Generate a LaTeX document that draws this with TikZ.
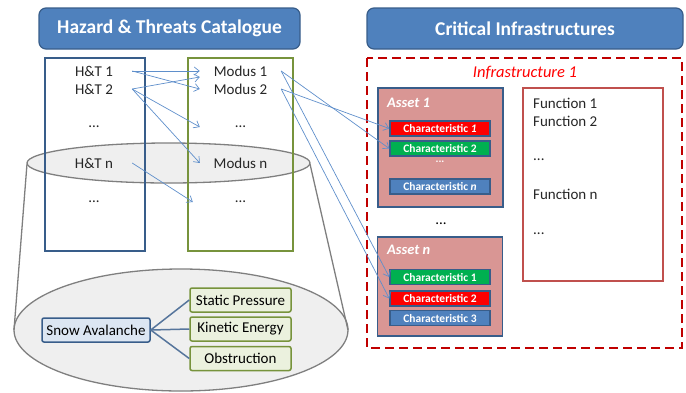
\documentclass[tikz,border=0pt]{standalone}
\usepackage{fontspec}
\setmainfont{Carlito}
\usetikzlibrary{arrows.meta,positioning}

\definecolor{hdrblue}{HTML}{4F81BD}
\definecolor{darkblue}{HTML}{385D8A}
\definecolor{olive}{HTML}{77933C}
\definecolor{lightolive}{HTML}{EBF1DE}
\definecolor{lightblue}{HTML}{DCE6F2}
\definecolor{assetpink}{HTML}{D99694}
\definecolor{dashred}{HTML}{C00000}
\definecolor{funcred}{HTML}{C0504D}
\definecolor{cylgray}{HTML}{7F7F7F}
\definecolor{cylfill}{HTML}{EFEFEF}
\definecolor{charred}{HTML}{FF0000}
\definecolor{chargreen}{HTML}{00B050}
\definecolor{flowblue}{HTML}{5F8FCB}

\tikzset{
  header/.style={draw=darkblue, line width=1.2pt, fill=hdrblue, rounded corners=7pt,
    text=white, font=\fontsize{19.5}{21}\selectfont\bfseries,
    minimum height=41pt, inner sep=0pt},
  item/.style={font=\fontsize{15}{17}\selectfont, text=black!85, inner sep=0pt,
    minimum height=12pt},
  htitem/.style={item, minimum width=76pt},
  moditem/.style={item, minimum width=81pt},
  flow/.style={flowblue, line width=0.7pt, -{Straight Barb[length=5pt,width=8pt]}},
  cyl/.style={draw=cylgray, fill=cylfill, line width=1.3pt},
  asset/.style={draw=darkblue, fill=assetpink, line width=1.5pt, minimum width=125pt},
  assetlabel/.style={anchor=west, text=white, inner sep=0pt,
    font=\fontsize{14.5}{16}\selectfont\bfseries\itshape},
  charbox/.style={draw=darkblue, line width=1.5pt, text=white, inner sep=0pt,
    minimum width=100pt, minimum height=15pt,
    font=\fontsize{11.5}{12}\selectfont\bfseries},
  rootbox/.style={draw=darkblue, fill=lightblue, line width=1.5pt, rounded corners=2pt,
    minimum width=108pt, minimum height=24pt, inner sep=0pt,
    font=\fontsize{15}{17}\selectfont},
  leafbox/.style={draw=olive, fill=lightolive, line width=1.5pt, rounded corners=2pt,
    minimum width=101pt, minimum height=24pt, inner sep=0pt,
    font=\fontsize{15}{17}\selectfont},
}

\begin{document}
\begin{tikzpicture}[x=1pt, y=-1pt]
\useasboundingbox (0,0) rectangle (686,392);

% cylinder behind the catalogue
\draw[cyl] (181,330) ellipse [x radius=167pt, y radius=61pt];
\draw[cylgray, line width=1.3pt] (27,164) -- (14,330);
\draw[cylgray, line width=1.3pt] (310,164) -- (348,330);
\draw[cyl] (168.5,163) ellipse [x radius=141.5pt, y radius=20pt];

% headers
\node[header, minimum width=261pt] (hdrcat) at (169.5,28.5) {Hazard \& Threats Catalogue};
\node[header, minimum width=316pt] (hdrci) at (525,28.5) {Critical Infrastructures};

% hazard & threats / modus columns
\draw[darkblue, line width=1.5pt] (45,58) rectangle (145,251);
\draw[olive, line width=1.5pt] (188,58) rectangle (293,251);

\foreach \nm/\y/\txt in {ht1/71/{H\&T 1}, ht2/89/{H\&T 2}, htd/127/{...}, htn/163/{H\&T n}, hte/202/{...}}
  \node[htitem] (\nm) at (94,\y) {\txt};
\foreach \nm/\y/\txt in {m1/71/{Modus 1}, m2/89/{Modus 2}, md/127/{...}, mn/163/{Modus n}, me/202/{...}}
  \node[moditem] (\nm) at (240.5,\y) {\txt};

% snow avalanche example
\node[rootbox] (snow) at (96,330) {Snow Avalanche};
\node[leafbox] (static) at (240.5,300) {Static Pressure};
\node[leafbox] (kinetic) at (240.5,329) {Kinetic Energy};
\node[leafbox] (obstr) at (240.5,358.5) {Obstruction};
\foreach \leaf in {static,kinetic,obstr}
  \draw[darkblue!85, line width=1.5pt] (snow.east) -- (\leaf.west);

% infrastructure 1
\draw[dashred, line width=2pt, dash pattern=on 9pt off 5pt] (367,58) rectangle (682,348);
\node[text=red, font=\fontsize{16.5}{18}\selectfont\itshape] (infra) at (525,73) {Infrastructure 1};

\node[asset, minimum height=119pt] (asset1) at (440.5,147.5) {};
\node[assetlabel] (a1lbl) at (387,103) {Asset 1};
\node[charbox, fill=charred] (c11) at (440,128.5) {Characteristic \textit{1}};
\node[charbox, fill=chargreen] (c12) at (440,148.5) {Characteristic 2};
\node[text=white, font=\fontsize{11}{12}\selectfont\bfseries] (c1d) at (440,162) {...};
\node[charbox, fill=hdrblue] (c1n) at (440,186.5) {Characteristic \textit{n}};

\node[font=\fontsize{15}{17}\selectfont] (assetd) at (441,224) {...};

\node[asset, minimum height=99pt] (assetn) at (440,286.5) {};
\node[assetlabel] (anlbl) at (387,250) {Asset n};
\node[charbox, fill=chargreen] (cn1) at (440,277) {Characteristic 1};
\node[charbox, fill=charred] (cn2) at (440,298.5) {Characteristic 2};
\node[charbox, fill=hdrblue] (cn3) at (440,318) {Characteristic 3};

% functions
\draw[funcred, line width=1.5pt] (523,88) rectangle (663,281);
\foreach \nm/\y/\txt in {f1/103/{Function 1}, f2/121/{Function 2}, fd/160/{...}, fn/194/{Function n}, fe/234/{...}}
  \node[item, anchor=west] (\nm) at (533,\y) {\txt};

% hazards to modi
\draw[flow] (ht1.east) -- (m1.west);
\draw[flow] (ht1.east) -- (m2.west);
\draw[flow] (ht2.east) -- ([yshift=-6pt]m1.west);
\draw[flow] (ht2.east) -- (md.west);
\draw[flow] (ht2.east) -- (mn.west);
\draw[flow] (htn.east) -- ([xshift=-7pt]me.west);

% modi to characteristics
\draw[flow] (m1.east) -- (c12.west);
\draw[flow] (m2.east) -- (c11.west);
\draw[flow] (m1.east) -- (cn1.west);
\draw[flow] (m2.east) -- (cn2.west);

\end{tikzpicture}
\end{document}
